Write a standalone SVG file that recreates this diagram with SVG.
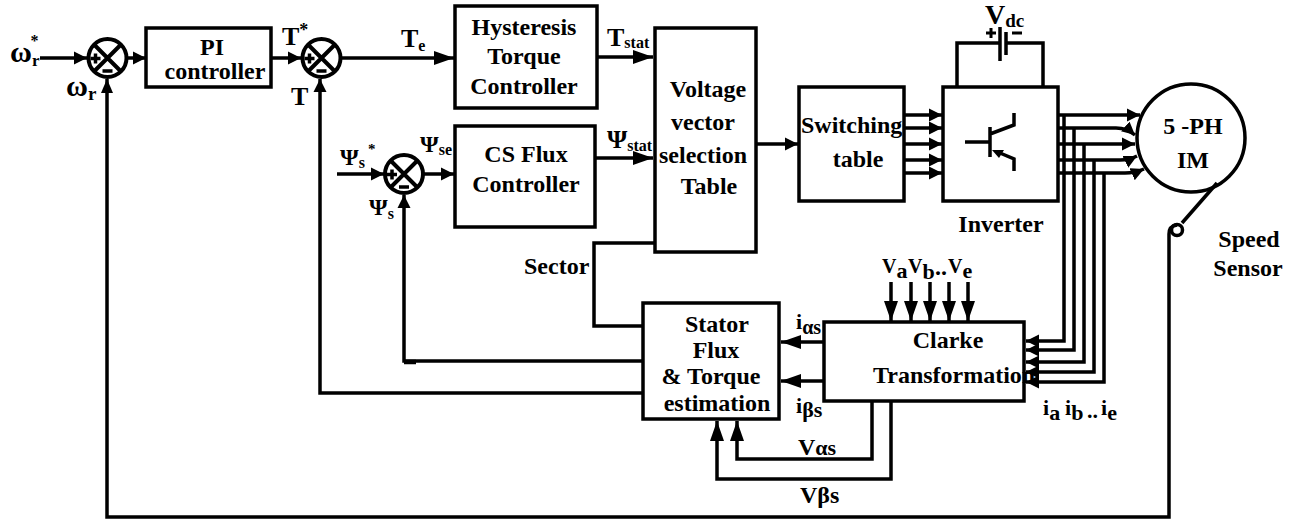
<svg xmlns="http://www.w3.org/2000/svg" width="1301" height="520" viewBox="0 0 1301 520">
<defs>
<style>
text{font-family:"Liberation Serif","Times New Roman",serif;font-weight:bold;font-size:24px;fill:#000}
.c{text-anchor:middle}
.s{font-size:16px}
.box{fill:none;stroke:#000;stroke-width:3.5}
.sum{fill:none;stroke:#000;stroke-width:4}
.w{fill:none;stroke:#000;stroke-width:3.5}
.a{marker-end:url(#ah)}
.b{marker-end:url(#bh)}
</style>
<marker id="ah" markerUnits="userSpaceOnUse" markerWidth="14" markerHeight="14" refX="13" refY="7" orient="auto"><path d="M0 0.500 L13 7 L0 13.500Z" fill="#000"/></marker>
<marker id="bh" markerUnits="userSpaceOnUse" markerWidth="20" markerHeight="16" refX="20" refY="8" orient="auto"><path d="M0 1 L20 8 L0 15Z" fill="#000"/></marker>
<g id="sumShape"><circle class="sum" r="19"/><path class="sum" d="M-13.5 -13.5L13.5 13.5M13.5 -13.5L-13.5 13.5"/><path d="M-17 0.5H-7M-12 -4.5V5.5M-5 13H5" stroke="#000" stroke-width="3.5" fill="none"/></g>
</defs>
<rect width="1301" height="520" fill="#fff"/>
<g id="sum1"><use href="#sumShape" x="107.5" y="58"/></g>
<g id="pi"><rect class="box" x="146" y="28" width="125" height="59"/><text class="c" x="212" y="55">PI</text><text class="c" x="215" y="79">controller</text></g>
<g id="sum2"><use href="#sumShape" x="321.5" y="58"/></g>
<g id="sum3"><use href="#sumShape" x="404" y="174"/></g>
<g id="hysteresis"><rect class="box" x="455" y="6" width="142" height="102"/><text class="c" x="524" y="35">Hysteresis</text><text class="c" x="524" y="64">Torque</text><text class="c" x="524" y="94">Controller</text></g>
<g id="csflux"><rect class="box" x="455" y="126" width="140" height="101"/><text class="c" x="526" y="162">CS Flux</text><text class="c" x="526" y="192">Controller</text></g>
<g id="voltage"><rect class="box" x="655" y="28" width="101" height="224"/><text class="c" x="708" y="97">Voltage</text><text class="c" x="703" y="130">vector</text><text class="c" x="703" y="163">selection</text><text class="c" x="709" y="194">Table</text></g>
<g id="switching"><rect class="box" x="799" y="87" width="105" height="114"/><text x="801" y="133">Switching</text><text class="c" x="858" y="167">table</text></g>
<g id="inverter"><rect class="box" x="943" y="87" width="115" height="114"/>
<path class="w" d="M965 142H990M990 127V157M990 134L1014 125V113M1000 153L1014 159V171"/><path d="M992 150L1004 150L999 158Z" fill="#000"/>
<text class="c" x="1001" y="232">Inverter</text></g>
<g id="battery"><path class="w" d="M957 87V43H999M1007 43H1043V87M1000 27V61M1006 32V55"/><path d="M986 33H996M991 28V38M1012 33H1022" stroke="#000" stroke-width="3" fill="none"/>
<text x="985" y="24" style="font-size:28px">V<tspan dy="3" style="font-size:19px">dc</tspan></text></g>
<g id="motor"><circle class="box" cx="1191" cy="138" r="54"/><text class="c" x="1193" y="134">5 -PH</text><text class="c" x="1193" y="168">IM</text></g>
<g id="sensor"><circle class="box" cx="1177" cy="230" r="5.500"/><text class="c" x="1249" y="247">Speed</text><text class="c" x="1248" y="276">Sensor</text></g>
<g id="stator"><rect class="box" x="643" y="303" width="136" height="116"/><text class="c" x="717" y="332">Stator</text><text class="c" x="716" y="358">Flux</text><text class="c" x="711" y="384">&amp; Torque</text><text class="c" x="717" y="411">estimation</text></g>
<g id="clarke"><rect class="box" x="824" y="322" width="200" height="79"/><text class="c" x="948" y="348">Clarke</text><text x="873" y="383">Transformation</text></g>
<g id="labels">
<text x="10" y="62" style="font-size:30px">ω<tspan dy="4" style="font-size:17px">r</tspan><tspan dx="-9" dy="-20" style="font-size:16px">*</tspan></text>
<text x="66" y="96" style="font-size:30px">ω<tspan dy="4" style="font-size:19px">r</tspan></text>
<text x="282" y="45" style="font-size:26px">T<tspan dy="-9" style="font-size:18px">*</tspan></text>
<text x="291" y="105" style="font-size:26px">T</text>
<text x="401" y="47" style="font-size:26px">T<tspan dy="4" class="s">e</tspan></text>
<text x="607" y="46" style="font-size:26px">T<tspan dy="2" class="s">stat</tspan></text>
<text x="607" y="148" style="font-size:26px">Ψ<tspan dy="3" class="s">stat</tspan></text>
<text x="340" y="165" style="font-size:24px">Ψ<tspan dy="3" class="s">s</tspan><tspan dx="3" dy="-14" style="font-size:15px">*</tspan></text>
<text x="420" y="152" style="font-size:24px">Ψ<tspan dy="3" class="s">se</tspan></text>
<text x="369" y="215" style="font-size:24px">Ψ<tspan dy="4" class="s">s</tspan></text>
<text x="524" y="274">Sector</text>
<text x="882" y="273" style="font-size:20px">V<tspan dy="5" style="font-size:22px">a</tspan></text><text x="908" y="273" style="font-size:20px">V<tspan dy="6" style="font-size:22px">b</tspan></text>
<text x="935" y="275">..</text><text x="948" y="273" style="font-size:20px">V<tspan dy="5" style="font-size:22px">e</tspan></text>
<text x="796" y="329" style="font-size:22px">i<tspan dy="5" style="font-size:20px">αs</tspan></text>
<text x="796" y="413" style="font-size:22px">i<tspan dy="4" style="font-size:22px">βs</tspan></text>
<text x="798" y="455" style="font-size:24px">V<tspan style="font-size:22px">αs</tspan></text>
<text x="800" y="503" style="font-size:24px">Vβs</text>
<text x="1043" y="415" style="font-size:22px">i<tspan dy="5">a</tspan></text><text x="1065" y="415" style="font-size:22px">i<tspan dy="5">b</tspan></text><text x="1087" y="418" style="font-size:22px">..</text><text x="1101" y="415" style="font-size:22px">i<tspan dy="5">e</tspan></text>
</g>
<g id="connectors">
<path class="w a" d="M40 58H87"/>
<path class="w a" d="M127 58H146"/>
<path class="w a" d="M271 58H301"/>
<path class="w b" d="M341 58H454"/>
<path class="w b" d="M597 57H653"/>
<path class="w b" d="M595 158H653"/>
<path class="w a" d="M337 174H384"/>
<path class="w a" d="M424 174H454"/>
<path class="w a" d="M756 144H798"/>
<path class="w a" d="M904 115H942"/><path class="w a" d="M904 128H942"/><path class="w a" d="M904 144H942"/><path class="w a" d="M904 160H942"/><path class="w a" d="M904 173H942"/>
<path class="w a" d="M1058 115H1140"/>
<path class="w a" d="M1058 128H1116Q1127 128 1135 135"/>
<path class="w a" d="M1058 144H1135"/>
<path class="w a" d="M1058 160H1120Q1129 160 1137 156"/>
<path class="w a" d="M1058 173H1125Q1135 173 1144 169"/>
<path class="w a" d="M1064 115V341H1026"/>
<path class="w a" d="M1074 128V350H1026"/>
<path class="w a" d="M1084 144V362H1026"/>
<path class="w a" d="M1094 160V372H1026"/>
<path class="w a" d="M1104 173V382H1026"/>
<path class="w b" d="M891 282V321"/><path class="w b" d="M911 282V321"/><path class="w b" d="M930 282V321"/><path class="w b" d="M949 282V321"/><path class="w b" d="M968 282V321"/>
<path class="w b" d="M824 342H781"/>
<path class="w b" d="M824 381H781"/>
<path class="w b" d="M872 401V459H737V421"/>
<path class="w b" d="M891 401V479H717V421"/>
<path class="w" d="M655 243H594V326H643"/>
<path class="w a" d="M643 361H404V195"/>
<path d="M404 362H416" stroke="#000" stroke-width="4.500" fill="none"/>
<path class="w a" d="M643 393H320V79"/>
<path class="w" d="M1182 223L1217 183"/>
<path class="w" d="M1177 225Q1169 226 1169 234V517H107V79"/>
<path d="M107 79L101 93H113Z" fill="#000"/>
</g>
</svg>
